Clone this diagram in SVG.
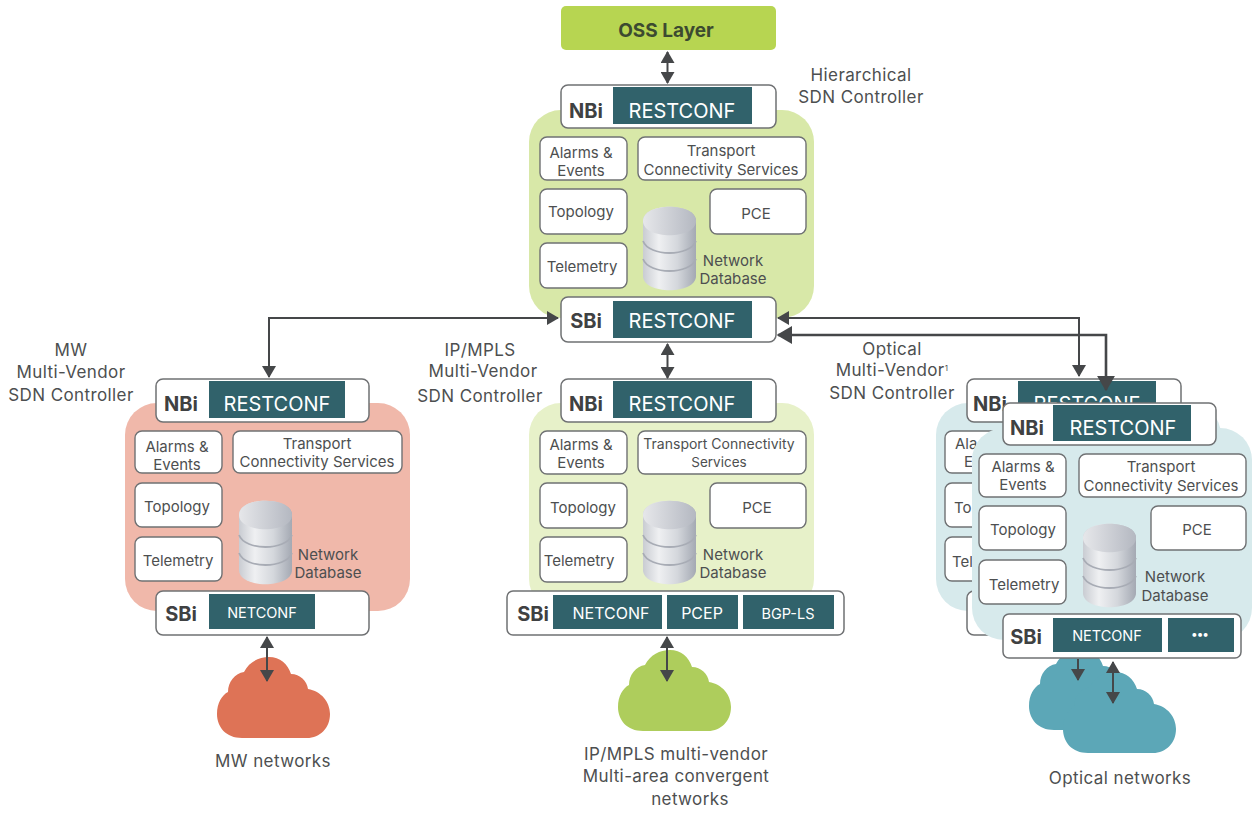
<svg xmlns="http://www.w3.org/2000/svg" width="1252" height="813" viewBox="0 0 1252 813">
<style>
text{font-family:Inter,"Noto Sans","Liberation Sans",sans-serif;fill:#4d4f50;text-anchor:middle;font-size:15px}
.lab{font-size:17px;letter-spacing:.4px}
.box{fill:#fff;stroke:#6f7173;stroke-width:1.4}
.bar{fill:#fff;stroke:#6f7173;stroke-width:1.5}
.teal{fill:#31626b}
.w{fill:#fff;font-size:20px}
.w2{fill:#fff;font-size:14.500px}
.w3{fill:#fff;font-size:16px}
.b{font-weight:700;font-size:20px;fill:#3f4142}
.st{text-anchor:start}
.con{fill:none;stroke:#454749;stroke-width:2}
</style>
<defs>
<linearGradient id="cg" x1="0" x2="1" y1="0" y2="0"><stop offset="0" stop-color="#c9ccd2"/><stop offset=".3" stop-color="#eff0f2"/><stop offset=".65" stop-color="#d4d7dc"/><stop offset="1" stop-color="#a4a9b3"/></linearGradient>
<linearGradient id="ct" x1="0" x2="1" y1="0" y2="0"><stop offset="0" stop-color="#e6e7ea"/><stop offset="1" stop-color="#b4b8c1"/></linearGradient>
<g id="cyl">
<path d="M0 14C0-5 53-5 53 14V69C53 88 0 88 0 69Z" fill="url(#cg)"/>
<path d="M0 14C0-5 53-5 53 14C53 33 0 33 0 14Z" fill="url(#ct)"/>
<path d="M0 34C6 50 47 50 53 34M0 52C6 68 47 68 53 52" fill="none" stroke="#a8acb5" stroke-width="1.800"/>
</g>
<path id="cloud" d="M25 81C9 81 0 70 0 57C0 46 5 38 11 35C11 25 18 16 27 15C32 5 42 0 52 0C63 0 71 7 74 17C83 17 90 24 91 32C104 34 113 45 113 57C113 71 103 81 90 81Z"/>
<marker id="ah" markerWidth="6" markerHeight="7" refX="5.500" refY="3.500" orient="auto-start-reverse" markerUnits="strokeWidth"><path d="M0 0L6 3.500L0 7Z" fill="#454749"/></marker>
</defs>

<g id="oss"><rect x="561" y="6" width="215" height="44" rx="5" fill="#b7d551"/><text x="666" y="37" style="font-size:19px;font-weight:700;fill:#3c4a30">OSS Layer</text></g>

<g id="hierarchical-controller">
<rect x="529" y="110" width="285" height="208" rx="32" fill="#d8e8a8"/>
<rect class="box" x="540" y="137" width="87" height="43" rx="7"/><text x="581" y="158">Alarms &amp;</text><text x="581" y="176">Events</text>
<rect class="box" x="638" y="137" width="168" height="43" rx="7"/><text x="721" y="156">Transport</text><text x="721" y="175">Connectivity Services</text>
<rect class="box" x="540" y="189" width="87" height="45" rx="7"/><text x="581" y="217">Topology</text>
<rect class="box" x="710" y="189" width="96" height="45" rx="7"/><text x="756" y="219">PCE</text>
<rect class="box" x="540" y="243" width="87" height="45" rx="7"/><text x="582" y="272">Telemetry</text>
<use href="#cyl" x="643" y="207"/><text x="733" y="266">Network</text><text x="733" y="284">Database</text>
</g>
<g id="hierarchical-nbi"><rect class="bar" x="561" y="85" width="215" height="43" rx="7"/><rect class="teal" x="613" y="87" width="139" height="37"/><text class="b" x="586" y="118">NBi</text><text class="w" x="682" y="118">RESTCONF</text></g>
<g id="hierarchical-sbi"><rect class="bar" x="561" y="297" width="215" height="45" rx="7"/><rect class="teal" x="613" y="301" width="139" height="37"/><text class="b" x="586" y="328">SBi</text><text class="w" x="682" y="328">RESTCONF</text></g>
<g id="hierarchical-label"><text class="lab" x="861" y="81">Hierarchical</text><text class="lab" x="861" y="103">SDN Controller</text></g>

<g id="mw-controller">
<rect x="125" y="403" width="285" height="208" rx="32" fill="#f0b8aa"/>
<rect class="box" x="135" y="431" width="87" height="42" rx="7"/><text x="177" y="452">Alarms &amp;</text><text x="177" y="470">Events</text>
<rect class="box" x="233" y="431" width="169" height="42" rx="7"/><text x="317" y="449">Transport</text><text x="317" y="467">Connectivity Services</text>
<rect class="box" x="135" y="483" width="87" height="44" rx="7"/><text x="177" y="512">Topology</text>
<rect class="box" x="135" y="537" width="87" height="44" rx="7"/><text x="178" y="566">Telemetry</text>
<use href="#cyl" x="239" y="501"/><text x="328" y="560">Network</text><text x="328" y="578">Database</text>
</g>
<g id="mw-nbi"><rect class="bar" x="156" y="379" width="213" height="43" rx="7"/><rect class="teal" x="209" y="381" width="136" height="37"/><text class="b" x="181" y="411">NBi</text><text class="w" x="277" y="411">RESTCONF</text></g>
<g id="mw-sbi"><rect class="bar" x="156" y="591" width="213" height="44" rx="7"/><rect class="teal" x="209" y="594" width="106" height="35"/><text class="b" x="181" y="621">SBi</text><text class="w2" x="262" y="618">NETCONF</text></g>
<g id="mw-label"><text class="lab" x="71" y="356">MW</text><text class="lab" x="71" y="378">Multi-Vendor</text><text class="lab" x="71" y="401">SDN Controller</text></g>

<g id="ip-controller">
<rect x="529" y="403" width="285" height="208" rx="32" fill="#e7f1c9"/>
<rect class="box" x="540" y="431" width="87" height="43" rx="7"/><text x="581" y="450">Alarms &amp;</text><text x="581" y="468">Events</text>
<rect class="box" x="638" y="431" width="168" height="43" rx="7"/><text x="719" y="449" style="font-size:14px">Transport Connectivity</text><text x="719" y="467" style="font-size:13.500px">Services</text>
<rect class="box" x="540" y="483" width="87" height="45" rx="7"/><text x="583" y="513">Topology</text>
<rect class="box" x="710" y="483" width="96" height="45" rx="7"/><text x="757" y="513">PCE</text>
<rect class="box" x="540" y="537" width="87" height="45" rx="7"/><text x="579" y="566">Telemetry</text>
<use href="#cyl" x="643" y="501"/><text x="733" y="560">Network</text><text x="733" y="578">Database</text>
</g>
<g id="ip-nbi"><rect class="bar" x="561" y="379" width="215" height="43" rx="7"/><rect class="teal" x="613" y="381" width="139" height="37"/><text class="b" x="586" y="411">NBi</text><text class="w" x="682" y="411">RESTCONF</text></g>
<g id="ip-sbi"><rect class="bar" x="507" y="591" width="337" height="44" rx="6"/><rect class="teal" x="553" y="595" width="109" height="34"/><rect class="teal" x="667" y="595" width="71" height="34"/><rect class="teal" x="743" y="595" width="91" height="34"/><text class="b" x="533" y="621">SBi</text><text class="w3" x="611" y="619">NETCONF</text><text class="w3" x="702" y="619">PCEP</text><text class="w2" x="788" y="619">BGP-LS</text></g>
<g id="ip-label"><text class="lab" x="480" y="356">IP/MPLS</text><text class="lab" x="483" y="377">Multi-Vendor</text><text class="lab" x="480" y="402">SDN Controller</text></g>

<g id="optical-cloud"><use href="#cloud" x="1029" y="649" fill="#5ca7b7"/><use href="#cloud" x="1063" y="672" fill="#5ca7b7"/><text class="lab" x="1120" y="784">Optical networks</text></g>
<g id="optical-back">
<rect x="936" y="403" width="285" height="208" rx="32" fill="#d7eaec"/>
<rect class="box" x="945" y="431" width="87" height="42" rx="7"/><text class="st" x="955" y="449">Ala</text><text class="st" x="964" y="467">E</text>
<rect class="box" x="945" y="483" width="87" height="44" rx="7"/><text class="st" x="954" y="513">To</text>
<rect class="box" x="945" y="537" width="87" height="44" rx="7"/><text class="st" x="952" y="567">Tel</text>
<rect class="bar" x="967" y="591" width="150" height="44" rx="7"/>
<rect class="bar" x="967" y="379" width="214" height="43" rx="7"/><rect class="teal" x="1018" y="381" width="138" height="37"/><text class="b" x="990" y="411">NBi</text><text class="w" x="1087" y="411">RESTCONF</text>
</g>
<g id="optical-front">
<rect x="972" y="428" width="280" height="212" rx="32" fill="#d7eaec"/>
<rect class="box" x="979" y="454" width="87" height="43" rx="7"/><text x="1023" y="472">Alarms &amp;</text><text x="1023" y="490">Events</text>
<rect class="box" x="1079" y="454" width="167" height="43" rx="7"/><text x="1161" y="472">Transport</text><text x="1161" y="491">Connectivity Services</text>
<rect class="box" x="979" y="506" width="87" height="44" rx="7"/><text x="1023" y="535">Topology</text>
<rect class="box" x="1151" y="506" width="95" height="44" rx="7"/><text x="1197" y="535">PCE</text>
<rect class="box" x="979" y="560" width="87" height="44" rx="7"/><text x="1024" y="590">Telemetry</text>
<use href="#cyl" x="1083" y="524"/><text x="1175" y="582">Network</text><text x="1175" y="601">Database</text>
</g>
<g id="optical-nbi"><rect class="bar" x="1003" y="403" width="213" height="42" rx="7"/><rect class="teal" x="1053" y="405" width="138" height="36"/><text class="b" x="1027" y="435">NBi</text><text class="w" x="1123" y="435">RESTCONF</text></g>
<g id="optical-sbi"><rect class="bar" x="1003" y="614" width="238" height="44" rx="6"/><rect class="teal" x="1053" y="618" width="109" height="34"/><rect class="teal" x="1168" y="618" width="66" height="34"/><text class="b" x="1026" y="644">SBi</text><text class="w2" x="1107" y="641">NETCONF</text><text class="w2" x="1200" y="638" style="font-size:12px;font-weight:700">•••</text></g>
<g id="optical-label"><text class="lab" x="892" y="355">Optical</text><text class="lab" x="892" y="376">Multi-Vendor<tspan font-size="8" dy="-5">1</tspan></text><text class="lab" x="892" y="399">SDN Controller</text></g>

<g id="mw-cloud"><use href="#cloud" x="217" y="657" fill="#de7356"/><text class="lab" x="273" y="767">MW networks</text></g>
<g id="ip-cloud"><use href="#cloud" x="618" y="650" fill="#aecd5c"/><text class="lab" x="676" y="760">IP/MPLS multi-vendor</text><text class="lab" x="676" y="782">Multi-area convergent</text><text class="lab" x="690" y="805">networks</text></g>

<g id="connectors">
<path class="con" d="M667.500 52V83" marker-start="url(#ah)" marker-end="url(#ah)"/>
<path class="con" d="M558 318H269V377" marker-start="url(#ah)" marker-end="url(#ah)"/>
<path class="con" d="M778 318H1079V376" marker-start="url(#ah)" marker-end="url(#ah)"/>
<path class="con" d="M778 335H1106V390" marker-start="url(#ah)" marker-end="url(#ah)" style="stroke-width:2.600"/>
<path class="con" d="M667.500 344V378" marker-start="url(#ah)" marker-end="url(#ah)"/>
<path class="con" d="M267 637V681" marker-start="url(#ah)" marker-end="url(#ah)"/>
<path class="con" d="M667 637V681" marker-start="url(#ah)" marker-end="url(#ah)"/>
<path class="con" d="M1078 659V680" marker-end="url(#ah)"/>
<path class="con" d="M1113 662V703" marker-start="url(#ah)" marker-end="url(#ah)"/>
</g>
</svg>
